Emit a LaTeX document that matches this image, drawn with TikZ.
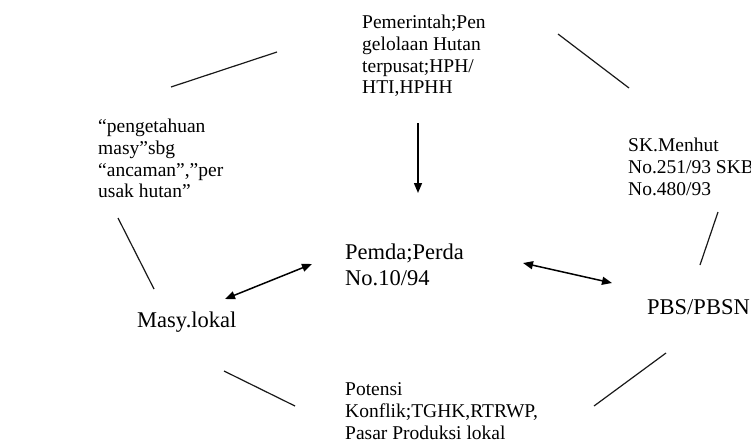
\documentclass[tikz,border=0pt]{standalone}
\usepackage{fontspec}
\setmainfont{Liberation Serif}
\usetikzlibrary{arrows.meta}
\begin{document}
\begin{tikzpicture}[x=1pt,y=-1pt,
  small/.style={anchor=north west,inner sep=0pt,align=left,
    font=\fontsize{19.5}{21.8}\selectfont},
  big/.style={anchor=north west,inner sep=0pt,align=left,
    font=\fontsize{22.5}{26}\selectfont},
  link/.style={line width=1.2pt,black!90},
  flow/.style={line width=1.5pt,black,-{Triangle[length=10pt,width=8pt]}},
  both/.style={line width=1.5pt,black,{Triangle[length=10pt,width=8pt]}-{Triangle[length=10pt,width=8pt]}}]
\useasboundingbox (0,0) rectangle (751,445);

% labels
\node[small] (pem) at (362,14.7) {Pemerintah;Pen\\gelolaan Hutan\\terpusat;HPH/\\HTI,HPHH};
\node[small] (pen) at (98,118.7) {“pengetahuan\\masy”sbg\\“ancaman”,”per\\usak hutan”};
\node[small] (sk) at (628,137.7) {SK.Menhut\\No.251/93 SKB\\No.480/93};
\node[small] (pot) at (345,382.7) {Potensi\\Konflik;TGHK,RTRWP,\\Pasar Produksi lokal};
\node[big] (pemda) at (345,243.6) {Pemda;Perda\\No.10/94};
\node[big] (masy) at (137,311.6) {Masy.lokal};
\node[big] (pbs) at (647,299) {PBS/PBSN};

% end points of the ring segments
\coordinate (a1) at (171,87);  \coordinate (a2) at (277,52);
\coordinate (b1) at (558,34);  \coordinate (b2) at (629,88);
\coordinate (c1) at (118,218); \coordinate (c2) at (154,289);
\coordinate (d1) at (718,212); \coordinate (d2) at (700,265);
\coordinate (e1) at (224,371); \coordinate (e2) at (295,406);
\coordinate (f1) at (594,406); \coordinate (f2) at (666,353);

% arrow end points
\coordinate (g1) at (418,123); \coordinate (g2) at (418,193);
\coordinate (h1) at (225,299); \coordinate (h2) at (312,264);
\coordinate (k1) at (523,263); \coordinate (k2) at (612,283);

\draw[link] (a1) -- (a2);
\draw[link] (b1) -- (b2);
\draw[link] (c1) -- (c2);
\draw[link] (d1) -- (d2);
\draw[link] (e1) -- (e2);
\draw[link] (f1) -- (f2);

\draw[flow] (g1) -- (g2);
\draw[both] (h1) -- (h2);
\draw[both] (k1) -- (k2);
\end{tikzpicture}
\end{document}
